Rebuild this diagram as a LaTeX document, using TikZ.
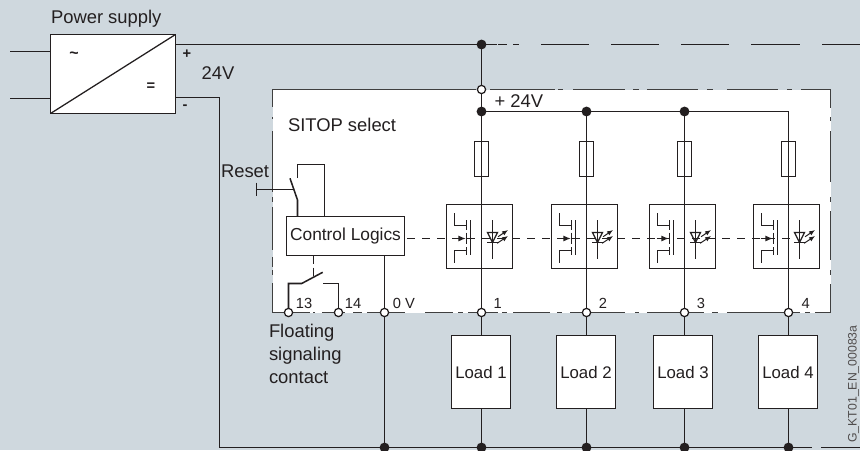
\documentclass[tikz,border=0pt]{standalone}
\usepackage{fontspec}
\setmainfont{Liberation Sans}
\usetikzlibrary{arrows.meta}
\definecolor{bgc}{HTML}{CFD8DE}
\definecolor{ink}{HTML}{231F20}
\definecolor{edgec}{HTML}{3F3F3F}
\newcommand{\fs}[1]{\fontsize{#1}{#1}\selectfont}
\tikzset{
  x=.75pt,y=-.75pt,
  wire/.style={draw=ink,line width=1.15pt},
  thin wire/.style={draw=ink,line width=.95pt},
  edgeline/.style={draw=edgec,line width=1.15pt},
  box/.style={draw=ink,line width=1.15pt,fill=white,rectangle,inner sep=0pt,outer sep=0pt,text=ink},
  fusebox/.style={draw=ink,line width=.95pt,rectangle,inner sep=0pt,outer sep=0pt,minimum width=10.5pt,minimum height=26.25pt},
  modbox/.style={draw=ink,line width=1.15pt,rectangle,inner sep=0pt,outer sep=0pt,minimum width=49.5pt,minimum height=48pt},
  dot/.style={circle,fill=ink,inner sep=0pt,outer sep=0pt,minimum size=7.4pt},
  open/.style={circle,draw=ink,line width=.95pt,fill=white,inner sep=0pt,outer sep=0pt,minimum size=6.2pt},
  lbl/.style={text=ink,inner sep=0pt,outer sep=0pt,font=\fs{13.8}},
  num/.style={text=ink,inner sep=0pt,outer sep=0pt,font=\fs{11}},
}
\begin{document}
\begin{tikzpicture}
\useasboundingbox (0,0) rectangle (860,450);
\fill[bgc] (0,0) rectangle (860,450);
\fill[white] (272.5,89.5) rectangle (830.5,312.5);
% dash-dotted border of the SITOP unit
\foreach \a/\b in {272/476,490/555,558/563,573/625,633/639,647/698,707/713,727/778,787/792,801/831}
  \draw[edgeline] (\a,89.5) -- (\b,89.5);
\foreach \a/\b in {89/108,117/121,131/182,197/202,211/260,270/275,284/313}
  \draw[edgeline] (830.5,\a) -- (830.5,\b);
\foreach \a/\b in {272/310,313/315,322/345,353/362,367/405,425/453,458/463,468/498,502/507,513/550,557/562,570/625,635/639,647/704,712/718,727/800,805/810,815/831}
  \draw[edgeline] (\a,312.5) -- (\b,312.5);
\foreach \a/\b in {89/107,117/119,131/192,197/202,207/250,257/267,270/275,283/313}
  \draw[edgeline] (272.5,\a) -- (272.5,\b);

% power supply
\node[box,minimum width=93.75pt,minimum height=59.25pt] (psu) at (113,74) {};
\node[lbl,anchor=west] (pstext) at (51,19) {Power supply};
\node[text=ink,inner sep=0pt,font=\bfseries\fs{12}] (tilde) at (74,55.5) {\char"007E};
\node[text=ink,inner sep=0pt,font=\bfseries\fs{11}] (eq) at (151,87) {=};
\node[text=ink,inner sep=0pt,font=\bfseries\fs{11}] (plus) at (187,54.3) {+};
\node[text=ink,inner sep=0pt,font=\bfseries\fs{11}] (minus) at (185,107.5) {-};
\node[lbl] (v24) at (218,72.7) {24V};
\draw[thin wire] (psu.south west) -- (psu.north east);
\coordinate (inA) at (10,51.5);
\coordinate (inB) at (10,98.5);
\coordinate (psuA) at (50.5,51.5);
\coordinate (psuB) at (50.5,98.5);
\draw[wire] (inA) -- (psuA);
\draw[wire] (inB) -- (psuB);
\coordinate (outP) at (175.5,44.5);
\coordinate (outN) at (175.5,97.5);
\coordinate (busCorner) at (219.5,97.5);
\coordinate (busLeft) at (219.5,447.5);

% texts
\node[lbl,anchor=west] (sitop) at (288,125) {SITOP select};
\node[lbl,anchor=center] (p24) at (518.8,100.7) {+ 24V};
\node[lbl,anchor=west] (reset) at (221,171) {Reset};
\node[lbl,anchor=west] (f1) at (269,332.7) {Floating};
\node[lbl,anchor=west] (f2) at (269,355.5) {signaling};
\node[lbl,anchor=west] (f3) at (269,378) {contact};
\node[num] (n13) at (304,303) {13};
\node[num] (n14) at (353,303) {14};
\node[num] (n0v) at (404,303) {0 V};
\node[text=ink!80,inner sep=0pt,outer sep=0pt,rotate=90,font=\fs{9.2}] (stamp) at (853.5,384) {G\_KT01\_EN\_00083a};

% junctions
\node[dot] (top) at (481.5,44.5) {};
\node[open] (inlet) at (481.5,89.5) {};
\node[dot] (r1) at (481.5,111.5) {};
\node[dot] (r2) at (586.5,111.5) {};
\node[dot] (r3) at (684.5,111.5) {};
\coordinate (r4) at (788.5,111.5);
\node[open] (c13) at (288.5,312.5) {};
\node[open] (c14) at (338.5,312.5) {};
\node[open] (c0) at (384.5,312.5) {};
\node[dot] (b0) at (384.5,447.5) {};

% control logic
\node[box,minimum width=88.5pt,minimum height=29.25pt,font=\fs{13}] (ctrl) at (345.5,236) {Control Logics};

% columns
\foreach \n/\x/\lx/\cx in {1/481.5/481/497.7,2/586.5/586/603,3/684.5/683/701,4/788.5/788/805.7}{
  \node[fusebox] (fuse\n) at (\x,159) {};
  \node[modbox] (mod\n) at (\x-2,236.5) {};
  \node[open] (o\n) at (\x,312.5) {};
  \node[box,minimum width=44.25pt,minimum height=54.75pt,font=\fs{12.6}] (load\n) at (\lx,372) {Load \n};
  \node[dot] (b\n) at (\x,447.5) {};
  \node[num] (cn\n) at (\cx,303) {\n};
  \draw[wire] (r\n) -- (o\n);
  \draw[wire] (o\n) -- (\x,335.5);
  \draw[wire] (\x,408.5) -- (b\n);
  % switch and LED symbols
  \begin{scope}[shift={(\x,0)}]
    \draw[thin wire] (-27,213) -- (-27,225.5) -- (-15,225.5);
    \draw[thin wire] (-27,262.5) -- (-27,250.5) -- (-15,250.5);
    \draw[thin wire] (-15,220) -- (-15,230);
    \draw[thin wire] (-15,232.5) -- (-15,243.5);
    \draw[thin wire] (-15,247) -- (-15,255);
    \draw[thin wire] (-11,220) -- (-11,255);
    \draw[thin wire,-{Latex[length=5.5pt,width=4.5pt]}] (-28,238.5) -- (-15.7,238.5);
    \draw[thin wire] (11,220) -- (11,258.5);
    \draw[thin wire] (6,232.5) -- (16,232.5) -- (11,242.5) -- cycle;
    \draw[thin wire] (5.5,242.5) -- (16.5,242.5);
    \draw[line width=.75pt,ink,-{Latex[length=4.5pt,width=3.6pt]}] (16.6,236.7) -- (26.6,230);
    \draw[line width=.75pt,ink,-{Latex[length=4.5pt,width=3.6pt]}] (15.6,243.3) -- (26.6,236);
  \end{scope}
}
% supply connections
\draw[wire] (outP) -- (top);
\coordinate (topEnd) at (497,44.5);
\draw[wire] (top) -- (topEnd);
\foreach \a/\b in {498/507,513/519,541/589,611/659,681/729,751/800,822/860}
  \draw[wire] (\a,44.5) -- (\b,44.5);
\draw[wire] (top) -- (inlet);
\draw[wire] (inlet) -- (r1);
\draw[wire] (r1) -- (r2);
\draw[wire] (r2) -- (r3);
\draw[wire] (r3) -- (r4);
\draw[wire] (outN) -- (busCorner) -- (busLeft);
\draw[wire] (busLeft) -- (b0);
\draw[wire] (b0) -- (b1);
\draw[wire] (b1) -- (b2);
\draw[wire] (b2) -- (b3);
\draw[wire] (b3) -- (b4);
\coordinate (busA) at (812,447.5);
\coordinate (busB) at (821,447.5);
\coordinate (busC) at (860,447.5);
\draw[wire] (b4) -- (busA);
\draw[wire] (busB) -- (busC);
\draw[wire] (ctrl.south -| c0) -- (c0);
\draw[wire] (c0) -- (b0);

% reset contact
\coordinate (rsA) at (297.5,216);
\coordinate (rsB) at (297.5,200);
\coordinate (rsC) at (290,178.3);
\coordinate (rsD) at (297.5,178);
\coordinate (rsE) at (297.5,164.5);
\coordinate (rsF) at (324.5,164.5);
\coordinate (rsG) at (324.5,216);
\coordinate (btnA) at (256.5,189.5);
\coordinate (btnB) at (293.5,189.5);
\coordinate (btnU) at (256.5,182.7);
\coordinate (btnL) at (256.5,196);
\draw[wire] (rsA) -- (rsB) -- (rsC);
\draw[wire] (rsD) -- (rsE) -- (rsF) -- (rsG);
\draw[wire] (btnA) -- (btnB);
\draw[wire] (btnU) -- (btnL);

% floating signalling contact
\coordinate (fsA) at (301.7,283.5);
\coordinate (fsB) at (322.7,272.3);
\coordinate (fsC) at (323.3,283.5);
\draw[wire] (c13) -- (c13 |- fsA) -- (fsA) -- (fsB);
\draw[wire] (c14) -- (c14 |- fsC) -- (fsC);
\draw[wire,dash pattern=on 6.5pt off 2.5pt] (313.5,255.5) -- (313.5,276);

% dashed coupling line
\coordinate (coupEnd) at (795,238.5);
\draw[wire,dash pattern=on 6pt off 5.25pt,shorten <=2pt] (ctrl.east |- coupEnd) -- (coupEnd);
\end{tikzpicture}
\end{document}
